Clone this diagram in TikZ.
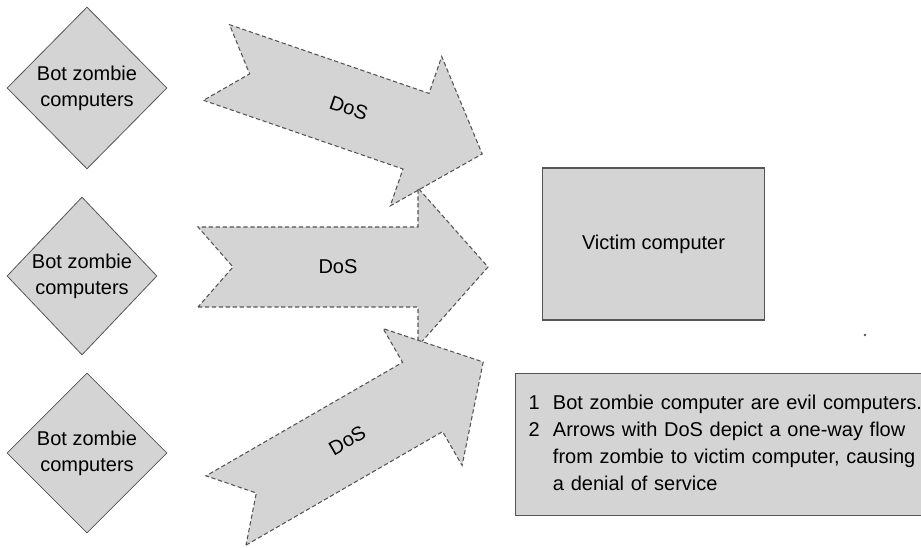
\documentclass[tikz,border=0pt]{standalone}
\usepackage{fontspec}
\setmainfont{Liberation Sans}
\usepackage{tikz}
\usetikzlibrary{shapes.geometric}
\definecolor{boxgray}{RGB}{212,212,212}
\definecolor{edgegray}{RGB}{85,85,85}
\tikzset{every node/.style={inner sep=0pt,font=\fontsize{15}{19.5}\selectfont,align=center}}
\tikzset{bot/.style={diamond,draw=edgegray,fill=boxgray,line width=0.6pt}}
\tikzset{victim/.style={rectangle,draw=edgegray,fill=boxgray,line width=0.8pt,minimum width=167pt,minimum height=114pt}}
\tikzset{dosarrow/.style={draw=edgegray,fill=boxgray,dash pattern=on 3.2pt off 2pt,line width=0.8pt,line join=miter}}
\tikzset{notebox/.style={rectangle,draw=edgegray,fill=boxgray,line width=0.8pt,anchor=north west,
  text width=300pt,align=left,inner xsep=9.75pt,minimum height=106.5pt,
  font=\fontsize{15}{20.25}\selectfont}}

\begin{document}
\begin{tikzpicture}[x=0.75pt,y=-0.75pt]
      \useasboundingbox (0,0) rectangle (921,548);
      \node[bot,minimum width=120pt,minimum height=121.5pt] (bot1) at (87,88) {Bot zombie\\computers};
      \node[bot,minimum width=112.5pt,minimum height=118.5pt] (bot2) at (82,276) {Bot zombie\\computers};
      \node[bot,minimum width=120pt,minimum height=120pt] (bot3) at (87,453) {Bot zombie\\computers};
      \node[victim] (victim) at (653.5,244) {Victim computer};
      \foreach \n/\x/\y/\a/\l in {1/216.5/62.5/-19/281, 2/198/267/0/290, 3/226/510.5/30/297}
      {
        \begin{scope}[shift={(\x,\y)},rotate=\a]
          \draw[dosarrow] (0,40) -- (\l-70,40) -- (\l-70,79) -- (\l,0) -- (\l-70,-79)
            -- (\l-70,-40) -- (0,-40) -- (35,0) -- cycle;
          \node[rotate=\a] (dos\n) at (140,0) {DoS};
        \end{scope}
      }
      \fill[edgegray] (865,335) circle (1pt);
      \node[notebox] (note) at (515,373) {%
        \begin{tabular}{@{}l@{\hspace{10pt}}l@{}}
        1 & Bot zombie computer are evil computers.\\
        2 & Arrows with DoS depict a one-way flow\\
          & from zombie to victim computer, causing\\
          & a denial of service
        \end{tabular}};
    \end{tikzpicture}
\end{document}
